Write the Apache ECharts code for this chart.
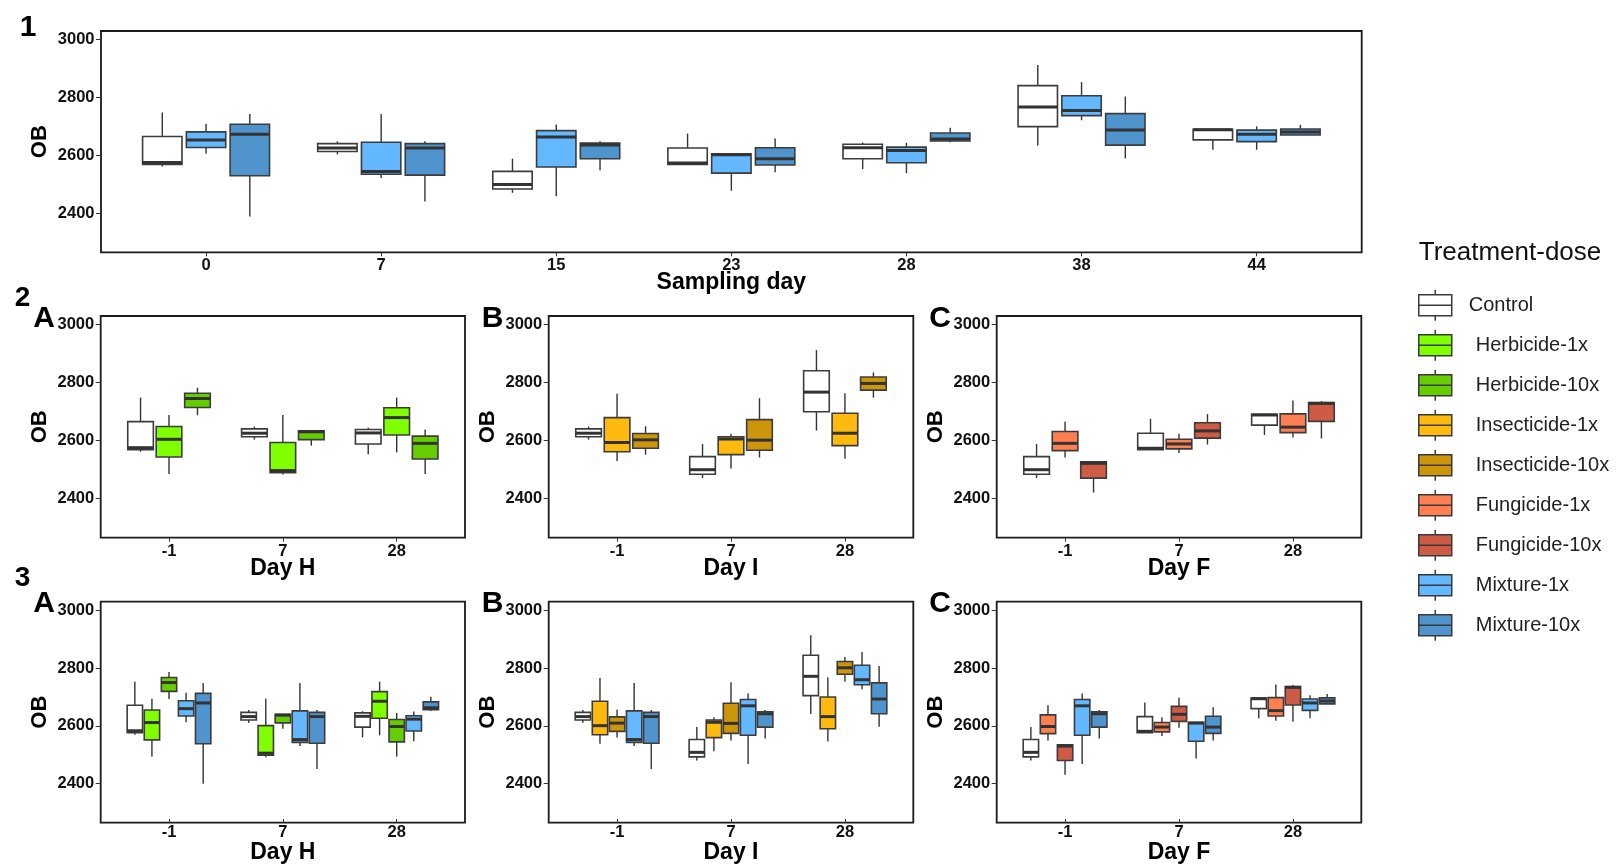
<!DOCTYPE html>
<html><head><meta charset="utf-8">
<script src="https://cdn.jsdelivr.net/npm/echarts@6/dist/echarts.min.js"></script>
<style>html,body{margin:0;padding:0;background:#fff}#c{width:1616px;height:865px}</style>
</head><body><div id="c"></div>
<script>
// ---------------- DATA ----------------
const samplingDays = ['0', '7', '15', '23', '28', '38', '44'];
const relativeDays = ['-1', '7', '28'];
const yTicks = [2400, 2600, 2800, 3000];

// each box: [min, Q1, median, Q3, max]; one per sampling day
const control = [
  [2561, 2568, 2575, 2665, 2748],
  [2603, 2613, 2625, 2640, 2648],
  [2470, 2483, 2499, 2544, 2588],
  [2568, 2568, 2573, 2625, 2675],
  [2552, 2588, 2626, 2638, 2644],
  [2634, 2699, 2767, 2841, 2912],
  [2619, 2653, 2688, 2690, 2690]
];
const mixture1x = [
  [2605, 2627, 2653, 2681, 2709],
  [2521, 2534, 2544, 2645, 2743],
  [2458, 2559, 2663, 2685, 2706],
  [2477, 2538, 2602, 2605, 2605],
  [2538, 2574, 2616, 2628, 2643],
  [2721, 2737, 2755, 2806, 2853],
  [2619, 2647, 2673, 2687, 2700]
];
const mixture10x = [
  [2388, 2529, 2673, 2707, 2743],
  [2440, 2531, 2625, 2640, 2648],
  [2548, 2588, 2635, 2642, 2648],
  [2541, 2566, 2588, 2626, 2658],
  [2645, 2649, 2656, 2677, 2695],
  [2589, 2635, 2687, 2744, 2803],
  [2670, 2670, 2680, 2691, 2705]
];
// relative days -1, 7, 28
const herbicide1x = [
  [2484, 2543, 2604, 2648, 2688],
  [2482, 2489, 2496, 2593, 2688],
  [2559, 2619, 2679, 2713, 2748]
];
const herbicide10x = [
  [2687, 2714, 2745, 2763, 2782],
  [2582, 2603, 2630, 2633, 2634],
  [2484, 2536, 2590, 2615, 2638]
];
const insecticide1x = [
  [2529, 2561, 2593, 2679, 2761],
  [2503, 2551, 2605, 2613, 2623],
  [2537, 2582, 2625, 2694, 2763]
];
const insecticide10x = [
  [2551, 2573, 2602, 2624, 2649],
  [2541, 2566, 2601, 2672, 2746],
  [2748, 2774, 2797, 2819, 2835]
];
const fungicide1x = [
  [2541, 2565, 2590, 2631, 2665],
  [2557, 2571, 2588, 2604, 2623],
  [2610, 2627, 2646, 2692, 2738]
];
const fungicide10x = [
  [2420, 2470, 2521, 2526, 2526],
  [2586, 2608, 2633, 2661, 2691],
  [2607, 2666, 2728, 2731, 2736]
];
// which sampling days (index into samplingDays) correspond to relative days -1, 7, 28
const herbicideDayIdx = [0, 1, 4];
const insecticideDayIdx = [1, 2, 5];
const fungicideDayIdx = [2, 3, 6];

const legendNames = ['Control', 'Herbicide-1x', 'Herbicide-10x', 'Insecticide-1x', 'Insecticide-10x',
  'Fungicide-1x', 'Fungicide-10x', 'Mixture-1x', 'Mixture-10x'];
const colors = {
  'Control': '#FFFFFF', 'Herbicide-1x': '#7FFF00', 'Herbicide-10x': '#66CD00',
  'Insecticide-1x': '#FFB90F', 'Insecticide-10x': '#CD950C',
  'Fungicide-1x': '#FF7F50', 'Fungicide-10x': '#CD5B45',
  'Mixture-1x': '#63B8FF', 'Mixture-10x': '#4F94CD'
};

// ---------------- LAYOUT ----------------
const FONT = '"Liberation Sans", Arial, sans-serif';
const Y_MIN = 2264, Y_MAX = 3030;
const pick = (arr, idx) => idx.map(i => arr[i]);

const colX = [[100.7, 465], [548.7, 913.3], [996.7, 1361.3]];
const row2Y = [316, 537.7], row3Y = [601.7, 822.7];

const panels = [
  { x: [101, 1361.7], y: [31, 252.3], cats: samplingDays, xName: 'Sampling day', nameGap: 19,
    groups: [['Control', control], ['Mixture-1x', mixture1x], ['Mixture-10x', mixture10x]] },
  { x: colX[0], y: row2Y, cats: relativeDays, xName: 'Day H', nameGap: 19,
    groups: [['Control', pick(control, herbicideDayIdx)], ['Herbicide-1x', herbicide1x], ['Herbicide-10x', herbicide10x]] },
  { x: colX[1], y: row2Y, cats: relativeDays, xName: 'Day I', nameGap: 19,
    groups: [['Control', pick(control, insecticideDayIdx)], ['Insecticide-1x', insecticide1x], ['Insecticide-10x', insecticide10x]] },
  { x: colX[2], y: row2Y, cats: relativeDays, xName: 'Day F', nameGap: 19,
    groups: [['Control', pick(control, fungicideDayIdx)], ['Fungicide-1x', fungicide1x], ['Fungicide-10x', fungicide10x]] },
  { x: colX[0], y: row3Y, cats: relativeDays, xName: 'Day H', nameGap: 22,
    groups: [['Control', pick(control, herbicideDayIdx)], ['Herbicide-1x', herbicide1x], ['Herbicide-10x', herbicide10x],
      ['Mixture-1x', pick(mixture1x, herbicideDayIdx)], ['Mixture-10x', pick(mixture10x, herbicideDayIdx)]] },
  { x: colX[1], y: row3Y, cats: relativeDays, xName: 'Day I', nameGap: 22,
    groups: [['Control', pick(control, insecticideDayIdx)], ['Insecticide-1x', insecticide1x], ['Insecticide-10x', insecticide10x],
      ['Mixture-1x', pick(mixture1x, insecticideDayIdx)], ['Mixture-10x', pick(mixture10x, insecticideDayIdx)]] },
  { x: colX[2], y: row3Y, cats: relativeDays, xName: 'Day F', nameGap: 22,
    groups: [['Control', pick(control, fungicideDayIdx)], ['Fungicide-1x', fungicide1x], ['Fungicide-10x', fungicide10x],
      ['Mixture-1x', pick(mixture1x, fungicideDayIdx)], ['Mixture-10x', pick(mixture10x, fungicideDayIdx)]] }
];

function makeRender(off, wFrac, color) {
  return function (params, api) {
    const x = api.value(0);
    const band = api.size([1, 0])[0];
    const cx = api.coord([x, api.value(3)])[0] + off * band;
    const py = i => api.coord([x, api.value(i)])[1];
    const yMin = py(1), yQ1 = py(2), yMed = py(3), yQ3 = py(4), yMax = py(5);
    const hw = wFrac * band / 2;
    return { type: 'group', children: [
      { type: 'line', shape: { x1: cx, y1: yMax, x2: cx, y2: yQ3 }, style: { stroke: '#333', lineWidth: 1.4 } },
      { type: 'line', shape: { x1: cx, y1: yQ1, x2: cx, y2: yMin }, style: { stroke: '#333', lineWidth: 1.4 } },
      { type: 'rect', shape: { x: cx - hw, y: yQ3, width: 2 * hw, height: yQ1 - yQ3 },
        style: { fill: color, stroke: '#3c3c3c', lineWidth: 1.6 } },
      { type: 'line', shape: { x1: cx - hw, y1: yMed, x2: cx + hw, y2: yMed }, style: { stroke: '#333', lineWidth: 3 } }
    ] };
  };
}

const grid = [], xAxis = [], yAxis = [], series = [];
panels.forEach((p, i) => {
  const n = p.cats.length;
  const fw = p.x[1] - p.x[0], fh = p.y[1] - p.y[0];
  const unit = fw / (n + 0.2);
  const go = 2 * i, gi = 2 * i + 1;
  grid.push({ left: p.x[0], top: p.y[0], width: fw, height: fh, show: true,
    borderColor: '#1a1a1a', borderWidth: 1.8, backgroundColor: 'transparent', containLabel: false });
  grid.push({ left: p.x[0] + 0.1 * unit, top: p.y[0], width: n * unit, height: fh, containLabel: false });
  xAxis.push({ gridIndex: go, type: 'value', show: false });
  yAxis.push({ gridIndex: go, type: 'value', min: Y_MIN, max: Y_MAX,
    axisLine: { show: false },
    axisTick: { show: true, length: 5, customValues: yTicks, lineStyle: { color: '#333', width: 1 } },
    axisLabel: { customValues: yTicks, formatter: v => String(v), margin: 6.5, fontFamily: FONT,
      fontWeight: 'bold', fontSize: 16.5, color: '#111' },
    splitLine: { show: false },
    name: 'OB', nameLocation: 'middle', nameGap: 50, nameMoveOverlap: false,
    nameTextStyle: { fontFamily: FONT, fontWeight: 'bold', fontSize: 22, color: '#000' } });
  xAxis.push({ gridIndex: gi, type: 'category', data: p.cats, boundaryGap: true,
    axisLine: { show: false },
    axisTick: { show: true, alignWithLabel: true, length: 4, lineStyle: { color: '#333' } },
    axisLabel: { margin: 5, fontFamily: FONT, fontWeight: 'bold', fontSize: 16.5, color: '#111' },
    splitLine: { show: false },
    name: p.xName, nameLocation: 'middle', nameGap: p.nameGap, nameMoveOverlap: false,
    nameTextStyle: { fontFamily: FONT, fontWeight: 'bold', fontSize: 23, color: '#000' } });
  yAxis.push({ gridIndex: gi, type: 'value', min: Y_MIN, max: Y_MAX, show: false });
  const k = p.groups.length;
  const slot = 0.75 / k;
  p.groups.forEach(([name, vals], j) => {
    const off = (j - (k - 1) / 2) * slot;
    series.push({
      type: 'custom', name: name, xAxisIndex: gi, yAxisIndex: gi,
      itemStyle: { color: colors[name] },
      encode: { x: 0, y: [1, 2, 3, 4, 5] },
      data: vals.map((v, d) => [d].concat(v)),
      renderItem: makeRender(off, slot * 0.9, colors[name]),
      z: 3
    });
  });
});

const iconPath = 'path://M0,5L33,5L33,26L0,26Z M0,15.5L33,15.5 M16.5,0L16.5,5 M16.5,26L16.5,31';

const labelText = (t, x, y, size) => ({ type: 'text', x: x, y: y,
  style: { text: t, font: 'bold ' + size + 'px ' + FONT, fill: '#000', textAlign: 'center', textVerticalAlign: 'middle' } });

const chart = echarts.init(document.getElementById('c'), null, { renderer: 'canvas' });
chart.setOption({
  animation: false,
  backgroundColor: '#fff',
  grid, xAxis, yAxis, series,
  legend: {
    orient: 'vertical', left: 1413, top: 284, itemWidth: 33, itemHeight: 31, itemGap: 7.5,
    selectedMode: false,
    data: legendNames.map(nm => ({ name: nm, icon: iconPath,
      textStyle: { padding: [0, 0, 0, nm === 'Control' ? 12 : 19] } })),
    itemStyle: { borderColor: '#3a3a3a', borderWidth: 1.5 },
    textStyle: { fontFamily: FONT, fontSize: 20, color: '#222' }
  },
  graphic: [
    { type: 'text', x: 1510, y: 253, style: { text: 'Treatment-dose', font: '26px ' + FONT, fill: '#111',
      textAlign: 'center', textVerticalAlign: 'middle' } },
    labelText('1', 28, 28, 30),
    labelText('2', 22.5, 298, 28),
    labelText('3', 22.5, 578, 28),
    labelText('A', 44, 319, 30), labelText('B', 492.5, 319, 30), labelText('C', 940, 319, 30),
    labelText('A', 44, 604, 30), labelText('B', 492.5, 604, 30), labelText('C', 940, 604, 30)
  ]
});
</script>
</body></html>
